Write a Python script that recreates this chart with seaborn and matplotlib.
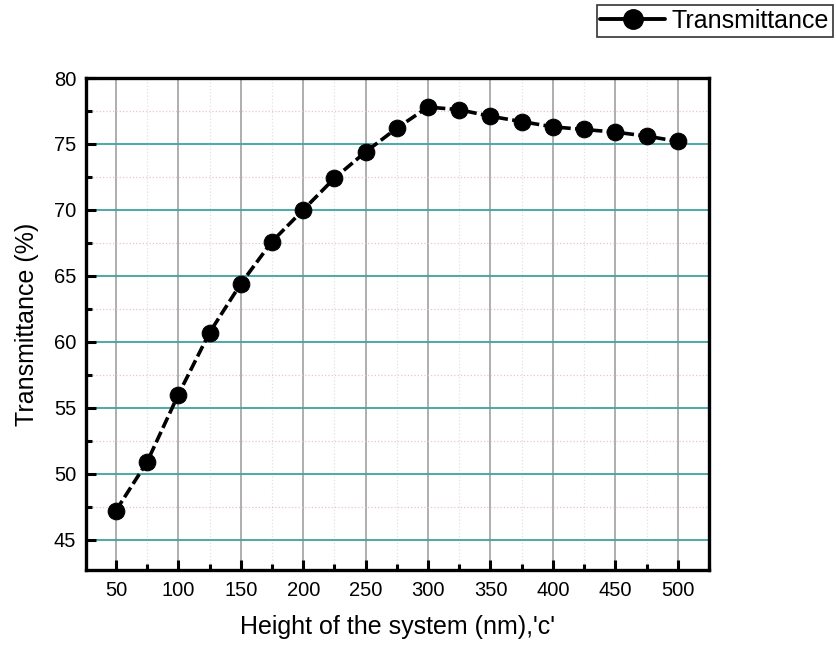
import matplotlib
matplotlib.use("Agg")
import matplotlib.pyplot as plt
import seaborn as sns
import pandas as pd
from matplotlib.ticker import MultipleLocator
from matplotlib.lines import Line2D

height = [50, 75, 100, 125, 150, 175, 200, 225, 250, 275, 300, 325, 350, 375, 400, 425, 450, 475, 500]
transmittance = [47.2, 50.9, 56.0, 60.7, 64.4, 67.6, 70.0, 72.4, 74.4, 76.2, 77.8, 77.6, 77.1, 76.7, 76.3, 76.1, 75.9, 75.6, 75.2]

sns.set_style("white")
plt.rcParams['font.family'] = ['Liberation Sans', 'DejaVu Sans']
plt.rcParams['text.color'] = 'black'
plt.rcParams['axes.labelcolor'] = 'black'
plt.rcParams['xtick.color'] = 'black'
plt.rcParams['ytick.color'] = 'black'

df = pd.DataFrame({"h": height, "T": transmittance})

fig = plt.figure(figsize=(8.37, 6.45), dpi=100)
ax = fig.add_axes([0.1027, 0.1163, 0.7443, 0.7627])

ax.xaxis.set_major_locator(MultipleLocator(50))
ax.xaxis.set_minor_locator(MultipleLocator(25))
ax.yaxis.set_major_locator(MultipleLocator(5))
ax.yaxis.set_minor_locator(MultipleLocator(2.5))

ax.grid(True, which='major', axis='x', color='#a8a8a8', lw=1.3)
ax.grid(True, which='minor', axis='x', color='#e2e2e2', lw=0.9, ls=':')
ax.grid(True, which='major', axis='y', color='#3fa4a0', lw=1.3)
ax.grid(True, which='minor', axis='y', color='#e6c4ca', lw=0.9, ls=':')
ax.set_axisbelow(True)

sns.lineplot(data=df, x="h", y="T", ax=ax, color='black', lw=2.6,
             linestyle=(0, (3.2, 1.2)), marker='o', markersize=12,
             markeredgecolor='black', markerfacecolor='black', legend=False)

ax.set_xlim(26, 525)
ax.set_ylim(42.7, 80)

for s in ax.spines.values():
    s.set_linewidth(2.4)
    s.set_color('black')

ax.tick_params(which='major', direction='in', length=7, width=2.2, labelsize=14.5,
               bottom=True, left=True, top=False, right=False)
ax.tick_params(axis='x', which='major', pad=8)
ax.tick_params(axis='y', which='major', pad=7)
ax.tick_params(which='minor', direction='in', length=4, width=2.2, bottom=True, left=True, top=False, right=False)

ax.set_xlabel("Height of the system (nm),'c'", fontsize=18, labelpad=11)
ax.set_ylabel("Transmittance (%)", fontsize=18, labelpad=11)

h = Line2D([], [], color='black', lw=2.8, marker='o', markersize=14)
leg = fig.legend([h], ['Transmittance'], loc='upper right', bbox_to_anchor=(0.995, 0.992),
                 fontsize=18, frameon=True, fancybox=False, edgecolor='black',
                 handlelength=2.6, handletextpad=0.25, borderpad=0.15, borderaxespad=0)
leg.get_frame().set_linewidth(1.2)

fig.savefig("out.png", dpi=100)
